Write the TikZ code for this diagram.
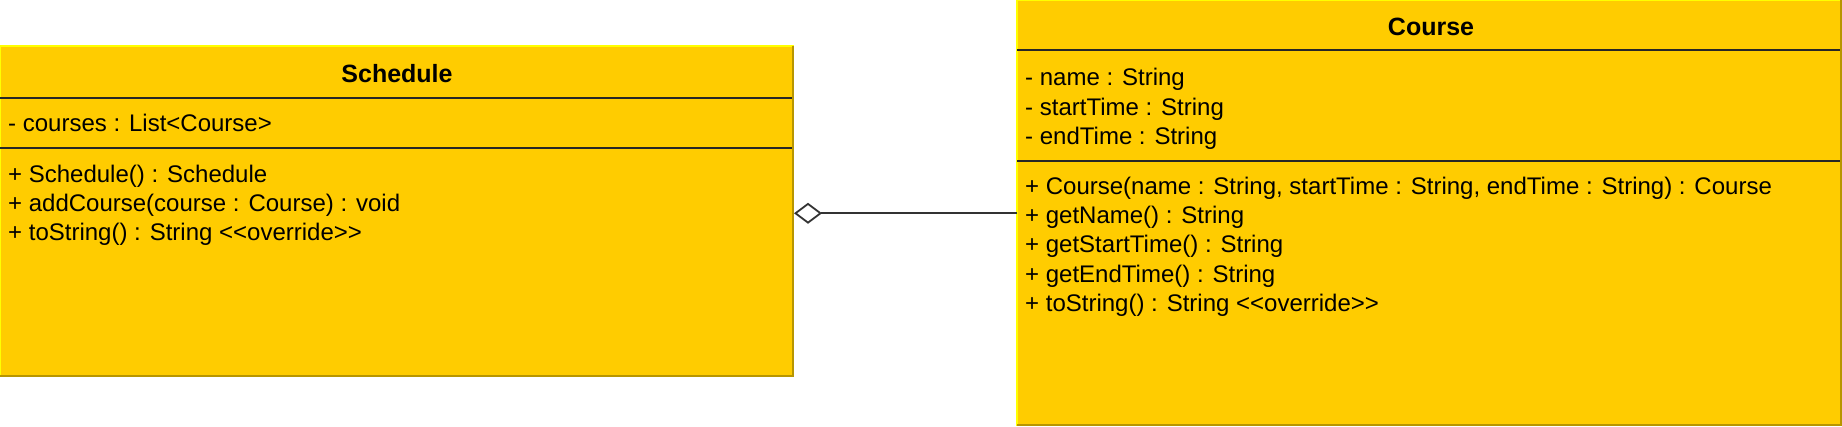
\documentclass[tikz,border=0pt]{standalone}
\usepackage{fontspec}
\setmainfont{Liberation Sans}
\usetikzlibrary{arrows.meta}
\definecolor{boxfill}{RGB}{255,204,0}
\definecolor{lightedge}{RGB}{255,255,0}
\definecolor{darkedge}{RGB}{184,150,0}
\newcommand\dlt{<\kern0pt<}
\newcommand\dgt{>\kern0pt>}
\tikzset{
  classbox/.style={fill=boxfill, draw=none, inner sep=0pt, outer sep=0pt, anchor=north west},
  hiedge/.style={draw=lightedge, line width=1.6pt},
  loedge/.style={draw=darkedge, line width=2.2pt},
  divider/.style={draw=black!85, line width=1.9pt},
  member/.style={anchor=base west, inner sep=0pt, font=\fontsize{24}{29}\selectfont},
  title/.style={anchor=base, inner sep=0pt, font=\fontsize{25}{30}\selectfont\bfseries},
  assoc/.style={draw=black!80, line width=1.8pt, -{Diamond[open, length=28pt, width=21pt, fill=white, line width=1.8pt]}}
}
\begin{document}
\begin{tikzpicture}[x=1pt, y=-1pt]
\useasboundingbox (0,0) rectangle (1842,426);
% Schedule
\node[classbox, minimum width=794pt, minimum height=331pt] (sched) at (0,46) {};
\draw[hiedge] (sched.south west) -- (sched.north west) -- (sched.north east);
\draw[loedge] ([xshift=-1pt]sched.north east) -- ([xshift=-1pt,yshift=1pt]sched.south east) -- ([yshift=1pt]sched.south west);
\draw[divider] ([yshift=-52pt]sched.north west) -- ([yshift=-52pt,xshift=-2pt]sched.north east);
\draw[divider] ([yshift=-102pt]sched.north west) -- ([yshift=-102pt,xshift=-2pt]sched.north east);
\node[title] (s-title) at (397,82.3) {Schedule};
\node[member] (s-a1) at (8,131.7) {- courses : List<Course>};
\node[member] (s-m1) at (8,182.3) {+ Schedule() : Schedule};
\node[member] (s-m2) at (8,211.7) {+ addCourse(course : Course) : void};
\node[member] (s-m3) at (8,240.7) {+ toString() : String \dlt override\dgt};
% Course
\node[classbox, minimum width=825pt, minimum height=426pt] (course) at (1017,0) {};
\draw[hiedge] (course.south west) -- (course.north west) -- (course.north east);
\draw[loedge] ([xshift=-1pt]course.north east) -- ([xshift=-1pt,yshift=1pt]course.south east) -- ([yshift=1pt]course.south west);
\draw[divider] ([yshift=-50pt]course.north west) -- ([yshift=-50pt,xshift=-2pt]course.north east);
\draw[divider] ([yshift=-160.7pt]course.north west) -- ([yshift=-160.7pt,xshift=-2pt]course.north east);
\node[title] (c-title) at (1431,35) {Course};
\node[member] (c-a1) at (1025,85.7) {- name : String};
\node[member] (c-a2) at (1025,115) {- startTime : String};
\node[member] (c-a3) at (1025,144) {- endTime : String};
\node[member] (c-m1) at (1025,194) {+ Course(name : String, startTime : String, endTime : String) : Course};
\node[member] (c-m2) at (1025,223.5) {+ getName() : String};
\node[member] (c-m3) at (1025,252.7) {+ getStartTime() : String};
\node[member] (c-m4) at (1025,282) {+ getEndTime() : String};
\node[member] (c-m5) at (1025,311.5) {+ toString() : String \dlt override\dgt};
% aggregation
\coordinate (lk) at (900,213.3);
\draw[assoc] (course.west |- lk) -- (sched.east |- lk);
\end{tikzpicture}
\end{document}
